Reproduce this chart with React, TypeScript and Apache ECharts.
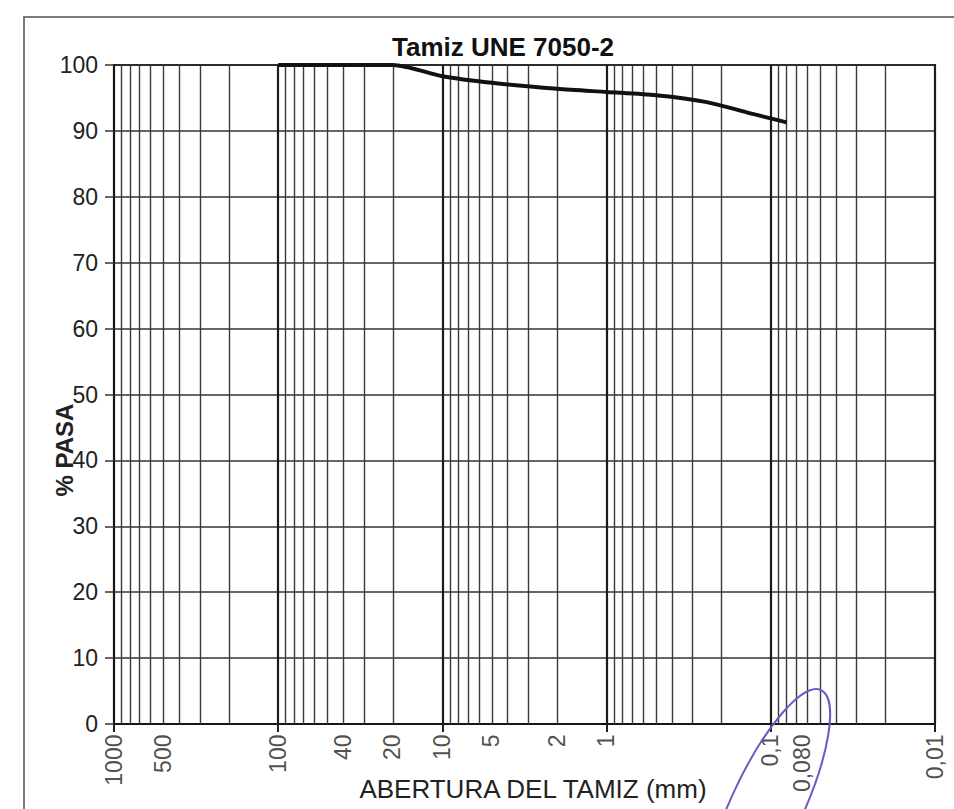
import React, { useEffect, useRef } from "react";
import * as echarts from "echarts";

// Curve: sieve opening (mm) vs % passing
const sieveSizes = [100, 40, 20, 10, 5, 2, 1, 0.5, 0.25, 0.125, 0.08];
const passingPct = [100, 100, 100, 98.3, 97.3, 96.4, 95.9, 95.4, 94.4, 92.5, 91.3];

// Labelled openings on the x axis
const xTickValues = [1000, 500, 100, 40, 20, 10, 5, 2, 1, 0.1, 0.08, 0.01];
const xTickLabels = ["1000", "500", "100", "40", "20", "10", "5", "2", "1", "0,1", "0,080", "0,01"];

// Log grid: decades and the multipliers of the minor lines
const decadeStarts = [100, 10, 1, 0.1, 0.01];
const minorMultipliers = [2, 3, 4, 5, 6, 7, 8, 9];

const titleText = "Tamiz UNE 7050-2";
const yName = "% PASA";
const xName = "ABERTURA DEL TAMIZ (mm)";

const FONT = "'Liberation Sans', Arial, sans-serif";

export default function App() {
  const ref = useRef<HTMLDivElement>(null);

  useEffect(() => {
    if (!ref.current) return;
    const chart = echarts.init(ref.current, undefined, { renderer: "svg" });

    const minorValues: number[] = [];
    decadeStarts.forEach((d) => minorMultipliers.forEach((m) => minorValues.push(d * m)));

    const curve = sieveSizes.map((s, i) => [s, passingPct[i]]);

    const labelData = xTickValues.map((v, i) => ({
      name: xTickLabels[i],
      value: [v, 0],
      label: { position: v === 0.08 ? [16, 11] : [0, 11] },
    }));

    chart.setOption({
      animation: false,
      backgroundColor: "#ffffff",
      grid: {
        left: 114,
        right: 19,
        top: 65,
        bottom: 85,
        show: true,
        borderColor: "#151515",
        borderWidth: 2,
      },
      xAxis: {
        type: "log",
        logBase: 10,
        min: 0.01,
        max: 1000,
        inverse: true,
        splitNumber: 5,
        axisLine: { show: true, lineStyle: { color: "#151515", width: 2 } },
        axisTick: { show: true, length: 8, lineStyle: { color: "#222", width: 2 } },
        axisLabel: { show: false },
        splitLine: { show: true, lineStyle: { color: "#1c1c1c", width: 2.2 } },
      },
      yAxis: {
        type: "value",
        min: 0,
        max: 100,
        interval: 10,
        axisLine: { show: true, lineStyle: { color: "#151515", width: 2 } },
        axisTick: { show: true, length: 9, lineStyle: { color: "#333", width: 1.5 } },
        axisLabel: { fontSize: 23, color: "#222", fontFamily: FONT, margin: 16 },
        splitLine: { show: true, lineStyle: { color: "#333", width: 1.6 } },
      },
      series: [
        {
          name: "grid-minor",
          type: "line",
          data: [],
          silent: true,
          markLine: {
            silent: true,
            symbol: ["none", "none"],
            label: { show: false },
            lineStyle: { color: "#3a3a3a", width: 1.4, type: "solid" },
            data: minorValues.map((v) => ({ xAxis: v })),
          },
        },
        {
          name: "% pasa",
          type: "line",
          data: curve,
          smooth: 0.25,
          showSymbol: false,
          symbol: "none",
          lineStyle: { color: "#111", width: 4 },
          z: 5,
        },
        {
          name: "x-labels",
          type: "scatter",
          data: labelData,
          symbolSize: 1,
          silent: true,
          itemStyle: { color: "rgba(0,0,0,0)" },
          label: {
            show: true,
            formatter: "{b}",
            rotate: 90,
            align: "right",
            verticalAlign: "middle",
            fontSize: 23,
            color: "#222",
            fontFamily: FONT,
          },
          z: 6,
        },
      ],
      graphic: [
        {
          type: "rect",
          shape: { x: 24, y: 17, width: 1200, height: 1200 },
          style: { fill: "none", stroke: "#7a7a7a", lineWidth: 2 },
          z: -1,
          silent: true,
        },
        {
          type: "text",
          x: 503,
          y: 47,
          style: {
            text: titleText,
            font: `bold 26px ${FONT}`,
            fill: "#111",
            textAlign: "center",
            textVerticalAlign: "middle",
          },
        },
        {
          type: "text",
          x: 64,
          y: 450,
          rotation: Math.PI / 2,
          style: {
            text: yName,
            font: `bold 24px ${FONT}`,
            fill: "#222",
            textAlign: "center",
            textVerticalAlign: "middle",
          },
        },
        {
          type: "text",
          x: 533,
          y: 789,
          style: {
            text: xName,
            font: `26px ${FONT}`,
            fill: "#222",
            textAlign: "center",
            textVerticalAlign: "middle",
          },
        },
        {
          type: "ellipse",
          x: 767,
          y: 806,
          rotation: -0.436,
          shape: { cx: 0, cy: 0, rx: 36, ry: 128 },
          style: { fill: "none", stroke: "#6a5cc0", lineWidth: 2 },
          z: 100,
          silent: true,
        },
      ],
    });

    return () => chart.dispose();
  }, []);

  return (
    <div
      ref={ref}
      style={{ position: "fixed", left: 0, top: 0, width: 954, height: 809 }}
    />
  );
}
